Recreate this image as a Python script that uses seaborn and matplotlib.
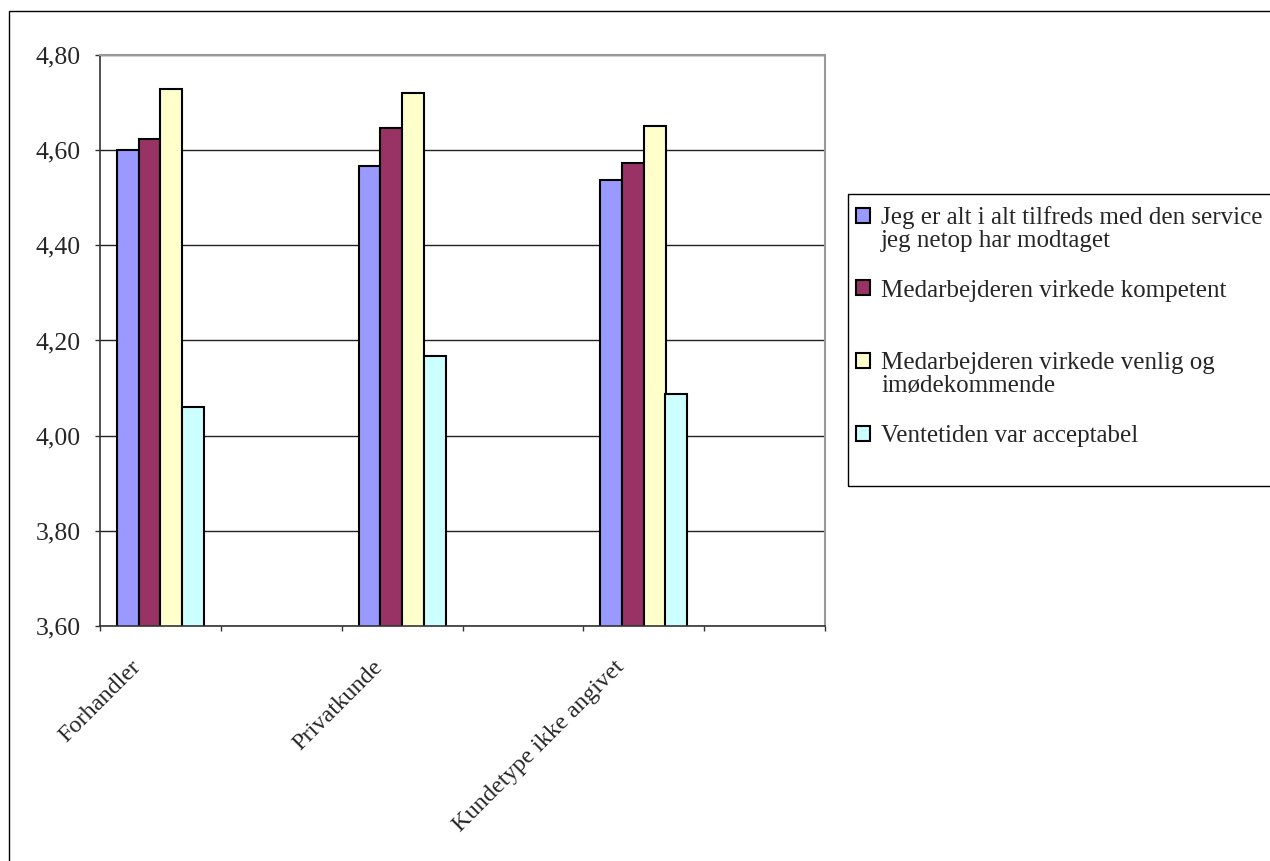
import seaborn as sns
import matplotlib.pyplot as plt
import matplotlib.patches as mpatches
import matplotlib.ticker as mticker
import matplotlib.transforms as mtransforms
import pandas as pd

# data
categories = ["Forhandler", " ", "Privatkunde", "  ", "Kundetype ikke angivet", "   "]
shown = ["Forhandler", "Privatkunde", "Kundetype ikke angivet"]
series = [
    "Jeg er alt i alt tilfreds med den service",
    "Medarbejderen virkede kompetent",
    "Medarbejderen virkede venlig og",
    "Ventetiden var acceptabel",
]
# second lines of the wrapped legend labels
series_cont = ["jeg netop har modtaget", "", "imødekommende", ""]
tilfreds = [4.600, 4.567, 4.538]
kompetent = [4.623, 4.646, 4.572]
venlig = [4.729, 4.721, 4.651]
ventetid = [4.060, 4.168, 4.088]
colors = ["#9999FF", "#993366", "#FFFFCC", "#CCFFFF"]

rows = []
for s, vals in zip(series, [tilfreds, kompetent, venlig, ventetid]):
    for c, v in zip(shown, vals):
        rows.append({"kategori": c, "serie": s, "score": v})
df = pd.DataFrame(rows)

sns.set_style("white")
plt.rcParams["font.family"] = ["Liberation Serif", "DejaVu Serif"]

fig = plt.figure(figsize=(12.7, 8.61), dpi=100)
ax = fig.add_axes([100 / 1270, 1 - 626 / 861, 725 / 1270, 571 / 861])

sns.barplot(data=df, x="kategori", y="score", hue="serie", order=categories,
            hue_order=series, palette=colors, saturation=1, width=0.72,
            edgecolor="black", linewidth=1.5, ax=ax, legend=True)

ax.set_ylim(3.6, 4.8)
ax.set_xlim(-0.5, len(categories) - 0.5)
ax.yaxis.set_major_locator(mticker.MultipleLocator(0.2))
ax.yaxis.set_major_formatter(mticker.FuncFormatter(lambda v, p: f"{v:.2f}".replace(".", ",")))
ax.yaxis.grid(True, color="#222222", linewidth=1)
ax.set_axisbelow(True)

# category labels at centers, ticks at boundaries
ax.set_xticks(range(len(categories)))
ax.set_xticklabels(categories, rotation=45, ha="right", va="top", fontsize=17.5)
ax.set_xticks([i - 0.5 for i in range(len(categories) + 1)], minor=True)
ax.tick_params(axis="x", which="major", length=0, pad=22)
ax.tick_params(axis="x", which="minor", length=3.6, width=1, color="#333333", direction="out", bottom=True)
ax.tick_params(axis="y", length=3.6, width=1, color="#333333", direction="out", left=True,
               labelsize=18.5, pad=10)
ax.set_xlabel("")
ax.set_ylabel("")
shift = mtransforms.ScaledTranslation(-0.15, 0, fig.dpi_scale_trans)
for lab in ax.get_xticklabels():
    lab.set_transform(lab.get_transform() + shift)

for side in ["left", "bottom"]:
    ax.spines[side].set_color("#333333")
    ax.spines[side].set_linewidth(1.2)
for side in ["top", "right"]:
    ax.spines[side].set_color("#999999")
    ax.spines[side].set_linewidth(1.5)

# legend
handles, labels = ax.get_legend_handles_labels()
ax.get_legend().remove()
leg = fig.legend(handles, labels, loc="upper left", bbox_to_anchor=(856 / 1270, 1 - 206 / 861),
                 frameon=False, fontsize=18, handlelength=0.55, handleheight=0.55,
                 handletextpad=0.45, labelspacing=2.03, borderaxespad=0, borderpad=0)
fig.canvas.draw()
inv = fig.transFigure.inverted()
for txt, cont in zip(leg.get_texts(), series_cont):
    if cont:
        bb = txt.get_window_extent().transformed(inv)
        fig.text(bb.x0, bb.y0 - 23 / 861, cont, fontsize=18, va="bottom", ha="left")

fig.add_artist(mpatches.Rectangle((848 / 1270, 1 - 486 / 861), 0.4, 292 / 861,
                                  transform=fig.transFigure, fill=False,
                                  edgecolor="black", linewidth=1))

# outer chart border
fig.add_artist(mpatches.Rectangle((9 / 1270, -0.05), 1.1, 1 - 11 / 861 + 0.05,
                                  transform=fig.transFigure, fill=False,
                                  edgecolor="black", linewidth=1))

fig.savefig("out.png", dpi=100)
